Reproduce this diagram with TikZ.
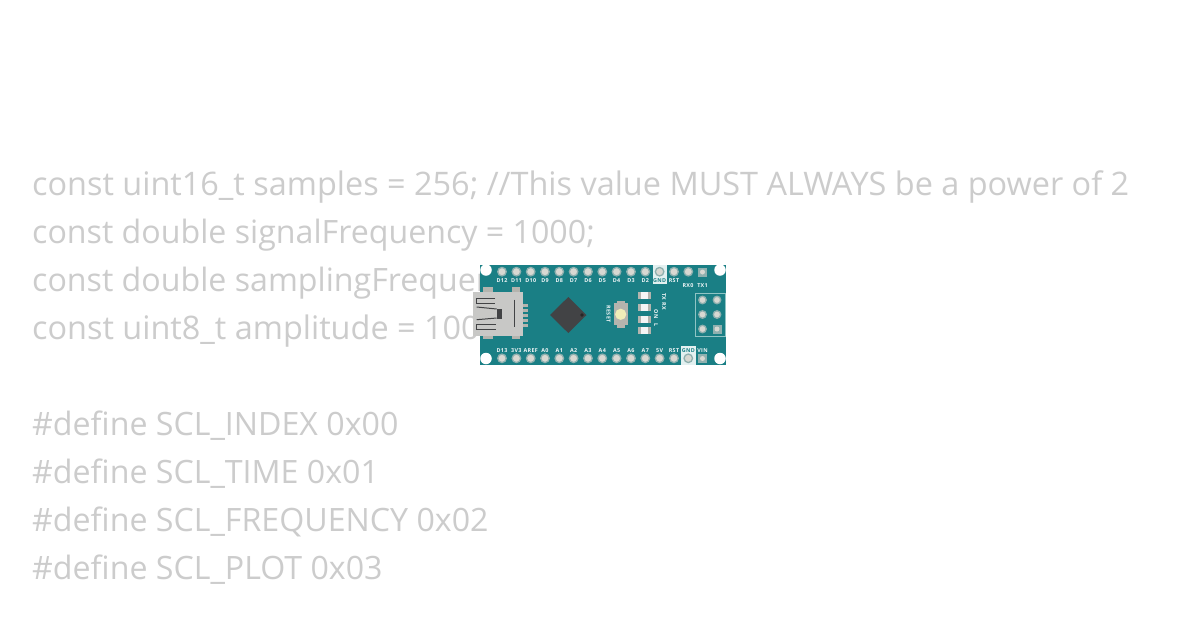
\documentclass[tikz,border=0pt]{standalone}
\usepackage{fontspec}
\setmainfont{Open Sans}
\newfontfamily\pinfont[LetterSpace=6]{Open Sans}
\definecolor{boardc}{HTML}{1A7F85}
\definecolor{codec}{HTML}{CCCCCC}
\definecolor{padc}{HTML}{8FB0AF}
\definecolor{holec}{HTML}{D8D8D2}
\definecolor{usbc}{HTML}{C8C8C6}
\definecolor{chipc}{HTML}{424345}
\definecolor{greyb}{HTML}{B4B4AE}
\definecolor{linec}{HTML}{8FC4C4}
\definecolor{btnc}{HTML}{F0EDB8}
\tikzset{
 x=1pt,y=-1pt,
 codeline/.style={anchor=base west,inner sep=0pt,text=codec,font=\fontsize{32.16}{32}\selectfont},
 codewide/.style={codeline,font=\fontsize{32.42}{32}\selectfont},
 pinlabel/.style={inner sep=0pt,text=white!94!boardc,font=\pinfont\bfseries\fontsize{5.4}{5.4}\selectfont},
 pinbase/.style={pinlabel,anchor=base},
 pinhole/.style={circle,fill=holec,draw=padc,line width=1.3pt,minimum size=8.5pt,inner sep=0pt},
 cornerhole/.style={circle,fill=white,minimum size=11.5pt,inner sep=0pt},
}
\begin{document}
\begin{tikzpicture}
\useasboundingbox (0,0) rectangle (1200,630);
\fill[white] (0,0) rectangle (1200,630);
% code
\node[codewide] (l1) at (32,195) {const uint16\_t samples = 256; //This value MUST ALWAYS be a power of 2};
\node[codeline] (l2) at (32,243) {const double signalFrequency = 1000;};
\node[codeline] (l3) at (32,291) {const double samplingFrequency = 5000;};
\node[codewide] (l4) at (32,339) {const uint8\_t amplitude = 100;};
\node[codeline] (l5) at (32,435) {\#define SCL\_INDEX 0x00};
\node[codeline] (l6) at (32,483) {\#define SCL\_TIME 0x01};
\node[codeline] (l7) at (32,531) {\#define SCL\_FREQUENCY 0x02};
\node[codeline] (l8) at (32,579) {\#define SCL\_PLOT 0x03};
% board
\fill[boardc] (480,265) rectangle (726,365);
\foreach \p/\q in {486/270,720/270,486/358.5,720/358.5}
  \node[cornerhole] at (\p,\q) {};
% highlight GND
\fill[white!88!boardc] (653,265) rectangle (667,284);
\fill[white!88!boardc] (681,346) rectangle (695.5,365);
% pins
\foreach \p in {502,516.4,530.7,545,559.3,573.6,588,602.3,616.6,631,645.3,659.6,674,688.3}{
  \node[pinhole] at (\p,271.7) {};
  \node[pinhole] at (\p,358.3) {};
}
\fill[padc] (698,267.5) rectangle (707,276.5);
\fill[holec] (702.5,272) circle (2.5);
\fill[padc] (698,354) rectangle (707,363);
\fill[holec] (702.5,358.5) circle (2.5);
% top labels
\foreach \p/\t in {502/D12,516.4/D11,530.7/D10,545/D9,559.3/D8,573.6/D7,588/D6,602.3/D5,616.6/D4,631/D3,645.3/D2,674/RST}{
  \node[pinbase] at (\p,282) {\t};
}
\node[pinbase] (rx) at (688,287) {RX0};
\node[pinbase] (tx) at (702.5,287) {TX1};
\node[pinbase,text=boardc] at (659.6,282) {GND};
\foreach \p/\t in {502/D13,516.4/3V3,530.7/AREF,545/A0,559.3/A1,573.6/A2,588/A3,602.3/A4,616.6/A5,631/A6,645.3/A7,659.6/5V,674/RST,702.5/VIN}{
  \node[pinbase] at (\p,352) {\t};
}
\node[pinbase,text=boardc] at (688.3,352) {GND};
% USB
\fill[greyb] (482.5,287) rectangle (492.5,293);
\fill[greyb] (512,287) rectangle (520,293);
\fill[greyb] (482.5,335) rectangle (492.5,339);
\fill[greyb] (512,335) rectangle (520,339);
\foreach \q in {305.5,310.5,315.5,320.5,325.5}
  \fill[greyb] (522,\q-1.2) rectangle (527.5,\q+1.2);
\fill[usbc] (472.7,292.3) rectangle (522.7,335.5);
\draw[chipc,line width=1pt] (495,298) -- (476.7,298) -- (476.7,303.7) -- (495,303.7);
\draw[chipc,line width=1pt] (476.7,307) -- (496.7,309);
\draw[chipc,line width=1pt] (476.7,319.7) -- (496.7,318);
\fill[chipc] (496.7,308.5) rectangle (502.3,318.5);
\draw[chipc,line width=1pt] (496,324.7) -- (476.7,324.7) -- (476.7,329.2) -- (496,329.2);
\draw[chipc,line width=1.2pt] (514.3,299.7) -- (514.3,327);
% chip
\fill[chipc] (568.3,297) -- (586.5,315) -- (568.3,333) -- (550,315) -- cycle;
\fill[black!85] (582,315) circle (1.8);
% reset
\fill[greyb] (613.5,303) rectangle (628,325);
\fill[greyb] (616.5,300.5) rectangle (625,327.5);
\fill[btnc] (620.7,314.3) circle (5.6);
\node[pinlabel,rotate=-90] at (608.5,314) {RESET};
% LEDs
\foreach \q in {295.5,307.5,319,330.5}{
  \fill[greyb] (637.7,\q-3.5) rectangle (650.5,\q+3.5);
  \fill[white!92!gray] (641,\q-3.5) rectangle (648,\q+3.5);
}
\node[pinlabel,rotate=-90] at (664,301.5) {TX RX};
\node[pinlabel,rotate=-90] at (656,318.5) {ON\hspace{5pt}L};
% ICSP
\draw[linec,line width=0.8pt] (695.5,293) rectangle (725,336);
\foreach \p in {702.5,717}
  \foreach \q in {300,314.5}
    \node[pinhole,minimum size=7.5pt] at (\p,\q) {};
\node[pinhole,minimum size=7.5pt] at (702.5,329) {};
\fill[padc] (712.5,324.5) rectangle (721.5,333.5);
\fill[holec] (717,329) circle (2.5);
\end{tikzpicture}
\end{document}
